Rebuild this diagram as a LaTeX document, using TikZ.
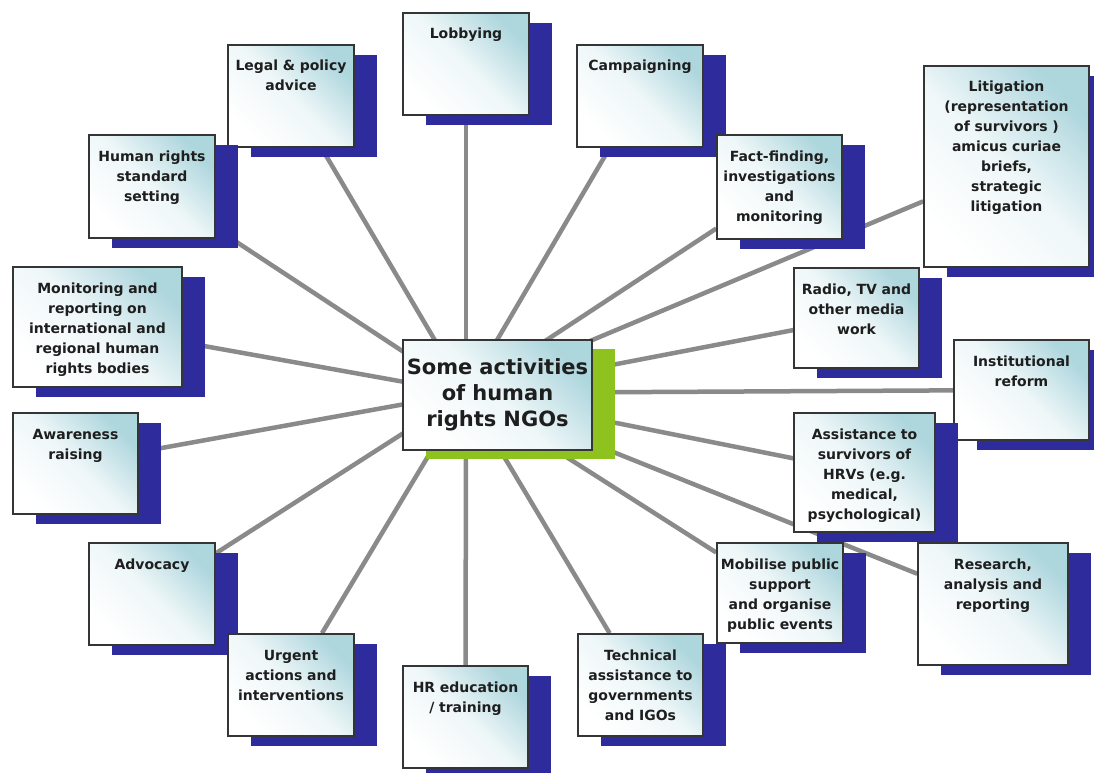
\documentclass[tikz,border=0pt]{standalone}
\usepackage{fontspec}
\setmainfont{DejaVu Sans}
\usetikzlibrary{positioning, shadows, backgrounds}
\definecolor{navy}{HTML}{2E2B9C}
\definecolor{lime}{HTML}{8DC21F}
\definecolor{glow}{HTML}{ADD6DD}
\definecolor{spoke}{HTML}{8A8A8A}
\definecolor{ink}{HTML}{1E1E1E}
\tikzset{
  card/.style={draw=ink!90, line width=1.6pt, text=ink, align=center,
    inner xsep=2pt, inner ysep=0pt,
    top color=glow, bottom color=white, middle color=glow!20!white, shading angle=-45},
  act/.style={card, font=\fontsize{14}{20}\selectfont\bfseries, text height=26pt,
    general shadow={fill=navy, shadow xshift=23pt, shadow yshift=-10pt}},
  boxsize/.style 2 args={text width=#1pt-4pt, text depth=#2pt-26pt},
  hubbox/.style={card, font=\fontsize{21}{26}\selectfont\bfseries,
    text width=185pt, text height=34pt, text depth=76pt,
    general shadow={fill=lime, shadow xshift=23pt, shadow yshift=-9pt}},
  spokeline/.style={draw=spoke, line width=4.5pt}
}

\begin{document}
\begin{tikzpicture}[x=1pt, y=-1pt]
  \useasboundingbox (0,0) rectangle (1094,773);
  % the hub in the middle
  \node[hubbox] (hub) at (497.5,395) {Some activities\\of human\\rights NGOs};
  \coordinate (core) at (466,393);
  % upper boxes
  \node[act, boxsize={126}{102}] (lobby) at (466,64) {Lobbying};
  \node[act, boxsize={126}{102}] (legal) at (291,96) {Legal \& policy\\advice};
  \node[act, boxsize={126}{102}] (campaign) at (640,96) {Campaigning};
  \node[act, boxsize={126}{103}] (standard) at (152,186.5) {Human rights\\standard\\setting};
  \node[act, boxsize={125}{104}] (fact) at (779.5,187) {Fact-finding,\\investigations\\and\\monitoring};
  \node[act, boxsize={165}{201}] (litig) at (1006.5,166.5)
    {Litigation\\(representation\\of survivors )\\amicus curiae\\briefs,\\strategic\\litigation};
  % middle band
  \node[act, boxsize={169}{120}] (monitor) at (97.5,327)
    {Monitoring and\\reporting on\\international and\\regional human\\rights bodies};
  \node[act, boxsize={125}{100}] (media) at (856.5,318) {Radio, TV and\\other media\\work};
  \node[act, boxsize={135}{100}] (reform) at (1021.5,390) {Institutional\\reform};
  \node[act, boxsize={125}{101}] (aware) at (75.5,463.5) {Awareness\\raising};
  \node[act, boxsize={141}{119}] (assist) at (864.5,472.5)
    {Assistance to\\survivors of\\HRVs (e.g.\\medical,\\psychological)};
  % lower boxes
  \node[act, boxsize={126}{102}] (advocacy) at (152,594) {Advocacy};
  \node[act, boxsize={126}{100}] (mobilise) at (780,593)
    {Mobilise public\\support\\and organise\\public events};
  \node[act, boxsize={150}{122}] (research) at (993,604) {Research,\\analysis and\\reporting};
  \node[act, boxsize={126}{102}] (urgent) at (291,685) {Urgent\\actions and\\interventions};
  \node[act, boxsize={125}{102}] (techassist) at (640.5,685)
    {Technical\\assistance to\\governments\\and IGOs};
  \node[act, boxsize={125}{102}] (educ) at (465.5,717) {HR education\\/ training};
  % spokes, behind everything
  \begin{scope}[on background layer]
    \foreach \b in {lobby, legal, campaign, standard, fact, litig, monitor, media,
                    reform, aware, assist, advocacy, mobilise, research, urgent,
                    techassist, educ}
      \draw[spokeline] (core) -- (\b);
  \end{scope}
\end{tikzpicture}
\end{document}
